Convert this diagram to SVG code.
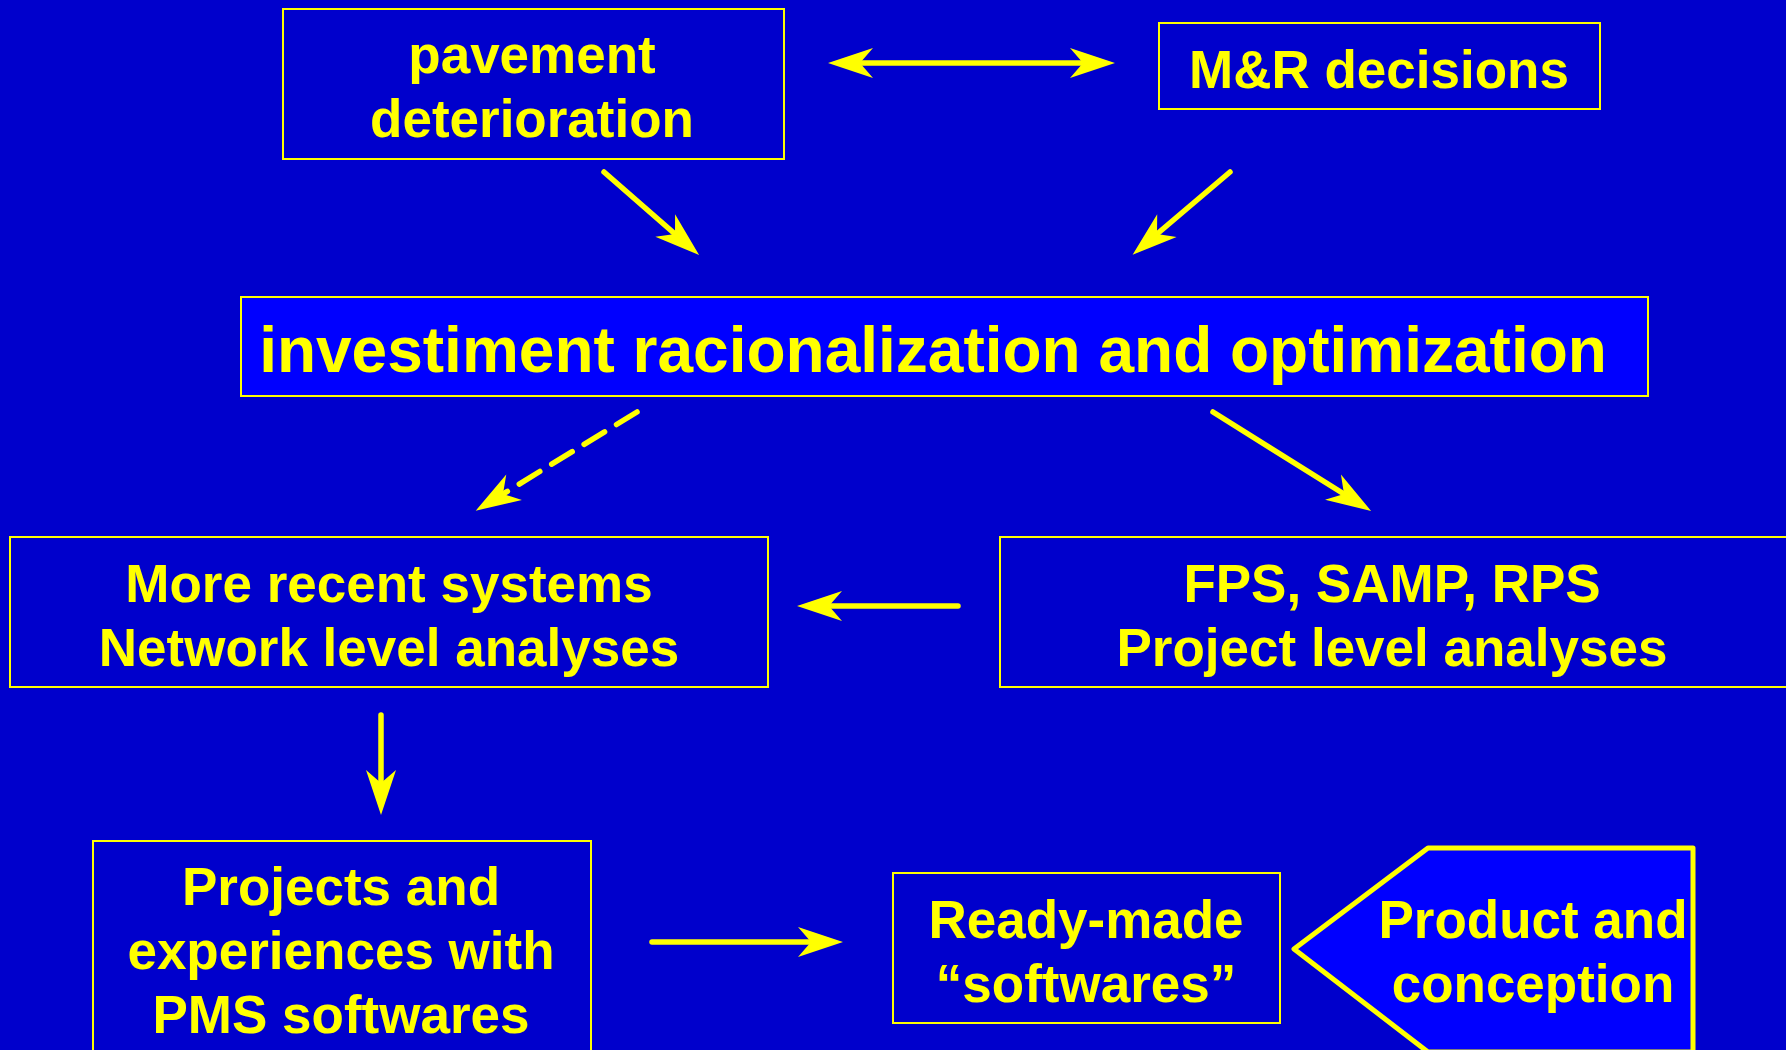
<svg xmlns="http://www.w3.org/2000/svg" width="1786" height="1050" viewBox="0 0 1786 1050">
<style>
.box{fill:#0000CC;stroke:#FFFF00;stroke-width:2}
.hi{fill:#0000FF;stroke:#FFFF00;stroke-width:2}
.t{font-family:"Liberation Sans",Arial,sans-serif;font-weight:bold;font-size:53px;fill:#FFFF00;text-anchor:middle}
.c{fill:none;stroke:#FFFF00;stroke-width:5.5;stroke-linecap:round}
</style>
<defs>
<marker id="ah" markerUnits="userSpaceOnUse" markerWidth="50" markerHeight="40" refX="0" refY="0" orient="auto-start-reverse" overflow="visible">
<path d="M32,0 L-13,-15 L0,0 L-13,15 Z" fill="#FFFF00"/>
</marker>
</defs>
<rect x="0" y="0" width="1786" height="1050" fill="#0000CC"/>
<g id="n-pavement">
<rect class="box" x="283" y="9" width="501" height="150"/>
<text class="t" x="532" y="73">pavement</text>
<text class="t" x="532" y="137">deterioration</text>
</g>
<g id="n-mr">
<rect class="box" x="1159" y="23" width="441" height="86"/>
<text class="t" x="1379" y="88">M&amp;R decisions</text>
</g>
<g id="n-invest">
<rect class="hi" x="241" y="297" width="1407" height="99"/>
<text class="t" x="933" y="372" style="font-size:64px">investiment racionalization and optimization</text>
</g>
<g id="n-recent">
<rect class="box" x="10" y="537" width="758" height="150"/>
<text class="t" x="389" y="602">More recent systems</text>
<text class="t" x="389" y="666">Network level analyses</text>
</g>
<g id="n-fps">
<rect class="box" x="1000" y="537" width="800" height="150"/>
<text class="t" x="1392" y="602">FPS, SAMP, RPS</text>
<text class="t" x="1392" y="666">Project level analyses</text>
</g>
<g id="n-projects">
<rect class="box" x="93" y="841" width="498" height="220"/>
<text class="t" x="341" y="905">Projects and</text>
<text class="t" x="341" y="969">experiences with</text>
<text class="t" x="341" y="1033">PMS softwares</text>
</g>
<g id="n-ready">
<rect class="box" x="893" y="873" width="387" height="150"/>
<text class="t" x="1086" y="938">Ready-made</text>
<text class="t" x="1086" y="1002">“softwares”</text>
</g>
<g id="n-product">
<polygon points="1294,949 1428,848 1693,848 1693,1052 1428,1052" fill="#0000FF" stroke="#FFFF00" stroke-width="5" stroke-linejoin="round"/>
<text class="t" x="1533" y="938">Product and</text>
<text class="t" x="1533" y="1002">conception</text>
</g>
<g id="connectors">
<line class="c" x1="860" y1="63" x2="1083" y2="63" marker-start="url(#ah)" marker-end="url(#ah)"/>
<line class="c" x1="604" y1="172" x2="675" y2="234" marker-end="url(#ah)"/>
<line class="c" x1="1230" y1="172" x2="1157" y2="234" marker-end="url(#ah)"/>
<line class="c" x1="637" y1="412" x2="503" y2="494" stroke-dasharray="24 14" marker-end="url(#ah)"/>
<line class="c" x1="1213" y1="412" x2="1344" y2="494" marker-end="url(#ah)"/>
<line class="c" x1="958" y1="606" x2="829" y2="606" marker-end="url(#ah)"/>
<line class="c" x1="381" y1="715" x2="381" y2="783" marker-end="url(#ah)"/>
<line class="c" x1="652" y1="942" x2="811" y2="942" marker-end="url(#ah)"/>
</g>
</svg>
